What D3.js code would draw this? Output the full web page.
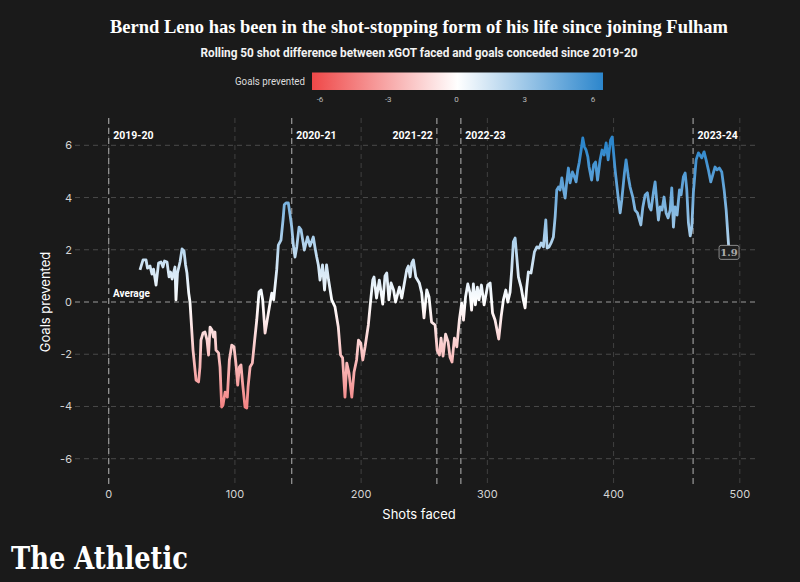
<!DOCTYPE html>
<html><head><meta charset="utf-8">
<script src="https://cdn.jsdelivr.net/npm/d3@7"></script>
<style>
html,body{margin:0;padding:0;background:#1a1a1a;}
svg{display:block;}
</style></head>
<body>
<svg id="c" width="800" height="582"></svg>
<script>
// ---------- DATA ----------
const shots = [24.8,27.2,29.6,30.7,32.7,34.3,35.5,37.5,39.5,41.4,
43.0,44.2,46.2,47.8,49.0,50.2,52.5,53.3,54.5,56.5,
58.1,59.7,60.9,62.0,63.4,64.4,66.8,69.2,71.2,72.3,
73.1,74.7,76.3,77.9,79.1,80.3,81.9,83.0,84.2,85.0,
87.0,88.2,89.5,90.6,92.2,94.0,95.6,97.5,99.3,100.9,
102.2,103.5,104.8,106.2,108.0,109.4,110.4,112.0,113.8,115.4,
117.3,119.1,120.7,122.0,123.9,126.0,127.3,129.2,130.7,133.1,
134.4,136.5,138.1,139.1,140.5,142.3,143.7,145.0,146.3,147.6,
149.0,150.8,152.4,155.0,157.5,159.5,162.1,163.5,164.8,166.1,
167.4,169.4,171.0,172.6,174.2,176.7,179.3,181.9,183.7,185.3,
187.2,188.6,190.4,192.6,194.4,196.4,197.9,199.7,201.3,203.1,
205.7,207.6,209.2,210.2,212.2,214.4,217.1,218.9,220.3,222.0,
223.7,225.7,227.3,230.3,232.2,234.0,236.1,237.4,238.8,240.1,
241.4,243.3,246.1,248.0,249.8,252.0,253.8,255.8,258.6,260.2,
262.0,263.3,264.9,266.9,268.9,270.4,272.0,273.9,275.8,277.8,
279.7,281.1,282.7,284.5,286.3,287.5,288.9,290.5,292.1,293.4,
295.3,297.4,300.3,302.2,304.1,306.1,309.0,310.9,312.7,314.6,
316.2,318.0,319.3,320.6,322.0,323.3,324.6,326.7,328.5,329.9,
331.2,332.5,334.6,337.3,339.2,341.0,342.6,344.4,346.3,347.3,
348.9,350.5,352.3,353.7,355.0,356.3,357.6,359.0,360.4,361.6,
362.9,364.2,365.5,367.4,369.0,370.3,371.6,372.7,374.3,375.6,
376.9,378.2,379.6,380.6,382.6,384.2,385.7,387.3,389.3,390.9,
392.5,394.1,395.7,397.6,398.9,400.0,401.2,403.6,405.2,406.5,
408.6,409.9,411.7,413.1,415.2,417.0,418.9,421.6,423.2,425.0,
426.8,428.4,429.7,431.5,432.9,434.1,435.5,436.9,438.4,440.0,
441.6,443.2,444.8,446.1,447.4,448.7,450.3,452.2,453.5,455.3,
456.7,458.0,459.3,460.7,462.0,463.2,465.4,467.2,469.9,471.7,
473.3,475.1,477.0,478.6,480.4,482.0,483.8,485.7,487.6,489.2,491.5];

const goalsPrevented = [1.23,1.61,1.61,1.30,1.38,1.07,1.26,0.65,1.49,1.53,
1.34,1.57,1.53,0.96,1.15,0.88,1.34,0.08,1.11,1.53,
2.03,1.95,1.42,1.11,0.34,0.00,-1.84,-2.99,-3.06,-2.49,
-1.46,-1.19,-1.15,-1.46,-2.03,-0.96,-1.07,-1.34,-1.15,-1.84,
-1.95,-2.49,-4.02,-3.94,-3.45,-3.64,-2.22,-1.65,-1.72,-2.41,
-3.18,-2.49,-2.41,-3.18,-4.02,-4.06,-3.26,-2.49,-2.34,-1.57,
-0.69,0.38,0.46,0.08,-1.19,-0.57,-0.19,0.34,0.08,1.23,
2.18,2.37,3.14,3.72,3.79,3.79,3.33,2.87,2.18,1.72,
2.11,2.87,2.76,1.99,2.49,2.14,2.49,2.07,1.72,1.42,
0.84,1.42,0.46,1.42,0.84,0.08,-0.19,-0.96,-2.03,-2.14,
-3.64,-2.34,-2.72,-3.64,-2.68,-2.22,-1.46,-1.57,-2.22,-1.72,
-0.88,0.08,0.84,0.96,0.15,0.84,-0.08,1.00,1.11,0.08,
0.73,0.46,0.00,0.57,0.15,0.65,1.23,1.38,0.96,1.49,
1.61,0.96,0.73,0.34,-0.61,0.46,0.19,-0.77,-0.88,-1.84,
-2.03,-1.38,-2.07,-1.23,-1.53,-2.11,-2.30,-1.38,-1.72,-0.69,
-0.04,-0.69,0.19,0.69,0.34,-0.31,0.69,-0.11,0.57,0.08,
0.65,-0.11,0.65,0.73,-0.42,-0.69,-1.42,-0.57,0.08,0.46,
0.00,0.38,1.23,2.30,2.45,1.72,0.96,0.57,0.08,-0.23,
0.57,1.15,1.11,1.92,2.11,2.07,2.26,2.11,3.14,2.07,
2.11,2.26,2.49,3.26,4.29,4.40,4.29,4.75,4.29,3.98,
4.60,5.13,4.56,4.98,4.79,4.60,5.06,5.32,5.82,6.28,
5.94,5.82,5.56,5.17,4.67,5.25,5.36,4.67,5.44,5.82,
5.63,6.09,5.44,6.20,6.32,5.71,5.06,4.02,3.41,3.91,
4.94,5.44,4.79,4.40,4.02,3.52,3.41,2.95,3.64,4.10,
4.18,3.64,3.52,4.18,4.60,3.91,3.14,3.64,3.52,4.02,
3.41,3.22,3.52,4.37,2.87,3.64,3.33,4.29,4.10,4.79,
4.94,4.29,3.03,2.53,2.87,4.18,5.44,5.71,5.52,5.75,
5.44,5.06,4.60,4.87,5.17,5.06,5.13,4.98,4.29,3.52,1.90];

const seasonLabels = ["2019-20","2020-21","2021-22","2022-23","2023-24"];
const seasonStarts = [0,145,260,279,463];
const xTicks = [0,100,200,300,400,500];
const yTicks = [-6,-4,-2,0,2,4,6];
const legendTicks = [-6,-3,0,3,6];
const colorStops = ["#ef4848","#ffffff","#2c86cc"];
const lastLabel = "1.9";

// ---------- SETUP ----------
const svg = d3.select("#c");
svg.append("rect").attr("width",800).attr("height",582).attr("fill","#1a1a1a");

const x = d3.scaleLinear().domain([0,500]).range([108.7,739.8]);
const y = d3.scaleLinear().domain([-6,6]).range([458.7,145.3]);
const plotL = 75, plotR = 757, plotT = 118, plotB = 486;
const color = d3.scaleLinear().domain([-6,0,6]).range(colorStops).interpolate(d3.interpolateRgb).clamp(true);

// Title
svg.append("text").attr("x",419).attr("y",33).attr("text-anchor","middle")
  .attr("font-family","'Liberation Serif', serif").attr("font-weight","bold").attr("font-size",19.5)
  .attr("textLength",618).attr("lengthAdjust","spacingAndGlyphs")
  .attr("fill","#ffffff").text("Bernd Leno has been in the shot-stopping form of his life since joining Fulham");
svg.append("text").attr("x",419).attr("y",57).attr("text-anchor","middle")
  .attr("font-family","'Liberation Sans Narrow','Roboto',sans-serif").attr("font-weight","bold").attr("font-size",12.5)
  .attr("textLength",437).attr("lengthAdjust","spacingAndGlyphs")
  .attr("fill","#f2f2f2").text("Rolling 50 shot difference between xGOT faced and goals conceded since 2019-20");

// Legend
const defs = svg.append("defs");
const lg = defs.append("linearGradient").attr("id","lg").attr("x1","0%").attr("x2","100%");
[-6,-3,0,3,6].forEach(v=>{
  lg.append("stop").attr("offset",((v+6)/12*100)+"%").attr("stop-color",color(v));
});
const lx = d3.scaleLinear().domain([-6,6]).range([320,593]);
svg.append("rect").attr("x",312).attr("y",72.5).attr("width",291).attr("height",17.5).attr("fill","url(#lg)");
svg.append("text").attr("x",305).attr("y",85).attr("text-anchor","end")
  .attr("font-family","'Liberation Sans Narrow','Roboto',sans-serif").attr("font-size",10.5)
  .attr("textLength",70).attr("lengthAdjust","spacingAndGlyphs")
  .attr("fill","#dddddd").text("Goals prevented");
svg.selectAll("text.lt").data(legendTicks).enter().append("text").attr("class","lt")
  .attr("x",d=>lx(d)).attr("y",102).attr("text-anchor","middle")
  .attr("font-family","'Roboto',sans-serif").attr("font-size",8)
  .attr("fill","#bbbbbb").text(d=>d);

// Gridlines
const g = svg.append("g");
g.selectAll("line.hg").data(yTicks).enter().append("line")
  .attr("x1",plotL).attr("x2",plotR).attr("y1",d=>y(d)).attr("y2",d=>y(d))
  .attr("stroke",d=>d===0?"#707070":"#4a4a4a").attr("stroke-width",d=>d===0?1.4:1)
  .attr("stroke-dasharray","5,4");
g.selectAll("line.vg").data(xTicks).enter().append("line")
  .attr("x1",d=>x(d)).attr("x2",d=>x(d)).attr("y1",plotT).attr("y2",plotB)
  .attr("stroke","#404040").attr("stroke-dasharray","5,4");
g.selectAll("line.sg").data(seasonStarts).enter().append("line")
  .attr("x1",d=>x(d)).attr("x2",d=>x(d)).attr("y1",plotT).attr("y2",plotB)
  .attr("stroke","#9a9a9a").attr("stroke-width",1.2).attr("stroke-dasharray","6,4");

// Season labels
svg.selectAll("text.sl").data(seasonLabels).enter().append("text")
  .attr("x",(d,i)=> i===2 ? x(seasonStarts[i])-4 : x(seasonStarts[i])+4.5)
  .attr("y",139).attr("text-anchor",(d,i)=> i===2?"end":"start")
  .attr("font-family","'Roboto',sans-serif").attr("font-weight","bold").attr("font-size",10.5)
  .attr("fill","#ffffff").text(d=>d);

svg.append("text").attr("x",113).attr("y",297)
  .attr("font-family","'Roboto',sans-serif").attr("font-weight","bold").attr("font-size",10)
  .attr("fill","#ffffff").text("Average");

// Axis tick labels
svg.selectAll("text.yt").data(yTicks).enter().append("text")
  .attr("x",72).attr("y",d=>y(d)+4).attr("text-anchor","end")
  .attr("font-family","'Inter','Roboto',sans-serif").attr("font-size",11)
  .attr("fill","#d4d4d4").text(d=>d);
svg.selectAll("text.xt").data(xTicks).enter().append("text")
  .attr("x",d=>x(d)).attr("y",498).attr("text-anchor","middle")
  .attr("font-family","'Inter','Roboto',sans-serif").attr("font-size",11)
  .attr("fill","#d4d4d4").text(d=>d);

// Axis titles
svg.append("text").attr("transform","translate(50,302) rotate(-90)").attr("text-anchor","middle")
  .attr("font-family","'Inter','Roboto',sans-serif").attr("font-size",13)
  .attr("fill","#ffffff").text("Goals prevented");
svg.append("text").attr("x",419).attr("y",519).attr("text-anchor","middle")
  .attr("font-family","'Inter','Roboto',sans-serif").attr("font-size",13)
  .attr("fill","#ffffff").text("Shots faced");

// Line with vertical gradient
const lineG = defs.append("linearGradient").attr("id","lineg")
  .attr("gradientUnits","userSpaceOnUse").attr("x1",0).attr("x2",0)
  .attr("y1",y(-6)).attr("y2",y(6));
d3.range(-6,6.01,1).forEach(v=>{
  lineG.append("stop").attr("offset",(v+6)/12).attr("stop-color",color(v));
});
const pts = shots.map((s,i)=>[s,goalsPrevented[i]]);
const line = d3.line().x(d=>x(d[0])).y(d=>y(d[1]));
svg.append("path").datum(pts).attr("d",line).attr("fill","none")
  .attr("stroke","url(#lineg)").attr("stroke-width",2.8).attr("stroke-linejoin","round");

// Last value label
const last = pts[pts.length-1];
const lbx = x(last[0]), lby = y(last[1]);
svg.append("rect").attr("x",lbx-10).attr("y",lby-7).attr("width",20).attr("height",14)
  .attr("rx",2).attr("fill","#1f1f1f").attr("stroke","#8a8a8a").attr("stroke-width",1);
svg.append("text").attr("x",lbx).attr("y",lby+4).attr("text-anchor","middle")
  .attr("font-family","'DejaVu Serif',serif").attr("font-weight","bold").attr("font-size",10)
  .attr("fill","#aaaaaa").text(lastLabel);

// Branding
svg.append("text").attr("x",11).attr("y",569)
  .attr("font-family","'DejaVu Serif',serif").attr("font-weight","bold").attr("font-size",31)
  .attr("textLength",177).attr("lengthAdjust","spacingAndGlyphs")
  .attr("fill","#ffffff").text("The Athletic");
</script>
</body></html>
